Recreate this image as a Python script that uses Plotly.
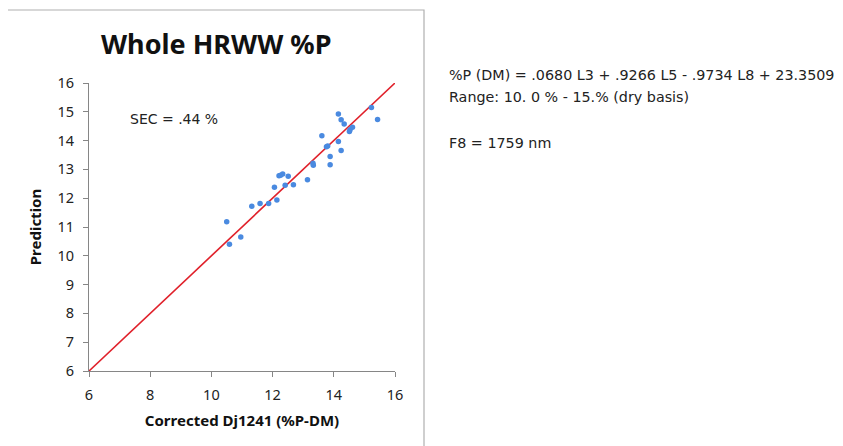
import plotly.graph_objects as go

# Data
corrected = [10.50, 10.59, 10.96, 11.32, 11.59, 11.87, 12.06, 12.14, 12.21, 12.26, 12.33,
             12.41, 12.51, 12.68, 13.14, 13.32, 13.33, 13.61, 13.76, 13.80, 13.88, 13.88,
             14.15, 14.15, 14.24, 14.24, 14.34, 14.51, 14.53, 14.61, 15.23, 15.43]
prediction = [11.18, 10.40, 10.65, 11.72, 11.82, 11.82, 12.38, 11.94, 12.78, 12.80, 12.84,
              12.45, 12.76, 12.47, 12.64, 13.21, 13.14, 14.17, 13.79, 13.81, 13.45, 13.16,
              14.92, 13.97, 14.72, 13.66, 14.58, 14.32, 14.38, 14.46, 15.15, 14.73]
line_x = [6, 16]
line_y = [6, 16]
x_ticks = [6, 8, 10, 12, 14, 16]
y_ticks = [6, 7, 8, 9, 10, 11, 12, 13, 14, 15, 16]

OFF = 8  # page body margin
L, R, T, B = 89 - OFF, 395 - OFF, 83 - OFF, 371 - OFF
W, H = 843 - OFF, 446 - OFF

def px(p):
    return (p - OFF - L) / (R - L)

def py(p):
    return (B - (p - OFF)) / (B - T)

fig = go.Figure()
fig.add_trace(go.Scatter(x=line_x, y=line_y, mode="lines",
                         line=dict(color="#e0202a", width=1.6), hoverinfo="skip"))
fig.add_trace(go.Scatter(x=corrected, y=prediction, mode="markers",
                         marker=dict(color="#4a8ae0", size=5.5)))

axis_font = dict(family="Noto Sans", size=14.5, color="#222222")
fig.update_xaxes(range=[6, 16], tickvals=x_ticks, showgrid=False, zeroline=False,
                 showline=True, linecolor="#868686", linewidth=1,
                 ticks="outside", ticklen=5, tickcolor="#868686", tickfont=axis_font,
                 ticklabelstandoff=6,
                 title=dict(text="<b>Corrected Dj1241 (%P-DM)</b>",
                            font=dict(family="Noto Sans", size=15, color="#111111"),
                            standoff=12))
fig.update_yaxes(range=[6, 16], tickvals=y_ticks, showgrid=False, zeroline=False,
                 showline=True, linecolor="#868686", linewidth=1,
                 ticks="outside", ticklen=5, tickcolor="#868686", tickfont=axis_font,
                 ticklabelstandoff=6,
                 title=dict(text="<b>Prediction</b>",
                            font=dict(family="Noto Sans", size=15, color="#111111"),
                            standoff=12))

shapes = [dict(type="rect", xref="paper", yref="paper",
               x0=px(7), x1=px(424), y0=py(455), y1=py(10),
               line=dict(color="#b0b0b0", width=1.2), fillcolor="rgba(0,0,0,0)", layer="below")]

txt_font = dict(family="DejaVu Sans", size=14, color="#222222")
side_font = dict(family="DejaVu Sans", size=14.3, color="#222222")
annotations = [
    dict(text="<b>Whole HRWW %P</b>", xref="paper", yref="paper", x=px(216), y=py(43),
         showarrow=False, font=dict(family="Noto Sans", size=27, color="#111111"),
         xanchor="center", yanchor="middle"),
    dict(text="SEC = .44 %", xref="paper", yref="paper", x=px(128), y=py(119),
         showarrow=False, font=txt_font, xanchor="left", yanchor="middle"),
    dict(text="%P (DM) = .0680 L3 + .9266 L5 - .9734 L8 + 23.3509", xref="paper", yref="paper",
         x=px(447), y=py(75), showarrow=False, font=side_font, xanchor="left", yanchor="middle"),
    dict(text="Range: 10. 0 % - 15.% (dry basis)", xref="paper", yref="paper",
         x=px(447), y=py(97), showarrow=False, font=side_font, xanchor="left", yanchor="middle"),
    dict(text="F8 = 1759 nm", xref="paper", yref="paper",
         x=px(447), y=py(143), showarrow=False, font=side_font, xanchor="left", yanchor="middle"),
]

fig.update_layout(width=W, height=H, margin=dict(l=L, r=W - R, t=T, b=H - B),
                  paper_bgcolor="white", plot_bgcolor="white", showlegend=False,
                  shapes=shapes, annotations=annotations)

fig.write_html("out.html")
